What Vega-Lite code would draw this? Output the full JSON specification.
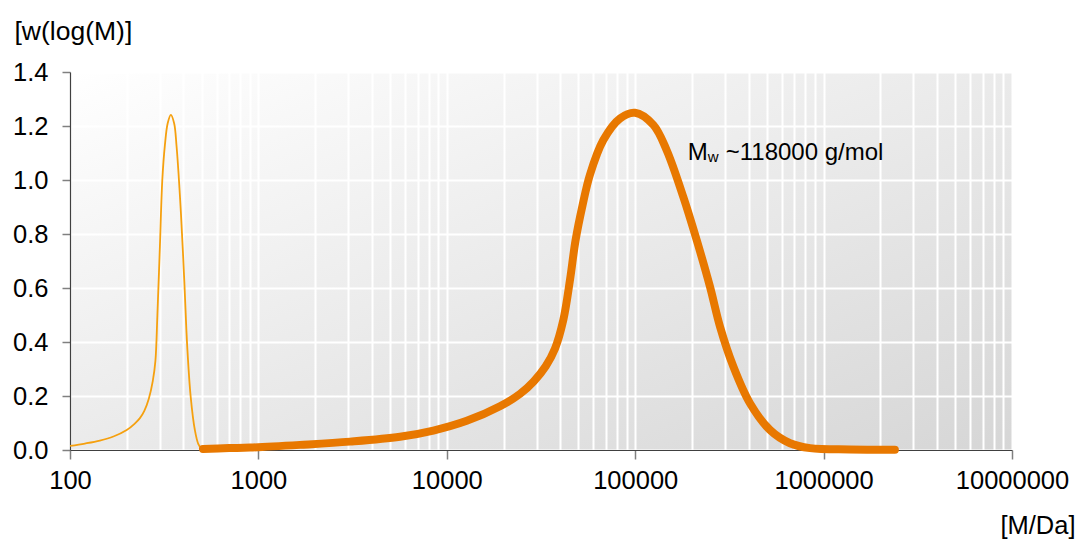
{
  "$schema": "https://vega.github.io/schema/vega-lite/v6.json",
  "width": 942,
  "height": 378,
  "autosize": "none",
  "padding": {"left": 70, "top": 72, "right": 67, "bottom": 89},
  "background": "#ffffff",
  "config": {
    "view": {
      "stroke": null,
      "fill": {"gradient": "linear", "x1": 0, "y1": 0, "x2": 1, "y2": 1,
        "stops": [{"offset": 0, "color": "#ffffff"}, {"offset": 1, "color": "#d6d6d6"}]}
    },
    "font": "Liberation Sans",
    "axis": {
      "labelFont": "Liberation Sans",
      "titleFont": "Liberation Sans",
      "labelFontSize": 25.5,
      "titleFontSize": 25.5,
      "labelColor": "#000000",
      "titleColor": "#000000",
      "titleFontWeight": "normal",
      "gridColor": "#ffffff",
      "gridWidth": 2,
      "gridOpacity": 1,
      "domainColor": "#404040",
      "domainWidth": 1.2,
      "tickColor": "#808080",
      "tickWidth": 1.5,
      "labelFlush": false,
      "labelOverlap": false
    }
  },
  "datasets": {
    "thin": [
      {"M": 100, "w": 0.015}, {"M": 120, "w": 0.024}, {"M": 144, "w": 0.035}, {"M": 170, "w": 0.05},
      {"M": 200, "w": 0.074}, {"M": 220, "w": 0.097}, {"M": 235, "w": 0.118}, {"M": 248, "w": 0.145},
      {"M": 262, "w": 0.19}, {"M": 275, "w": 0.255}, {"M": 284, "w": 0.33}, {"M": 291, "w": 0.5},
      {"M": 300, "w": 0.753}, {"M": 309, "w": 1.0}, {"M": 319, "w": 1.13}, {"M": 330, "w": 1.21},
      {"M": 343, "w": 1.241}, {"M": 357, "w": 1.21}, {"M": 368, "w": 1.123}, {"M": 388, "w": 0.877},
      {"M": 404, "w": 0.63}, {"M": 419, "w": 0.383}, {"M": 437, "w": 0.198}, {"M": 460, "w": 0.074},
      {"M": 480, "w": 0.022}, {"M": 500, "w": 0.004}
    ],
    "thick": [
      {"M": 508, "w": 0.004}, {"M": 700, "w": 0.007}, {"M": 902, "w": 0.009}, {"M": 1663, "w": 0.019},
      {"M": 3064, "w": 0.031}, {"M": 5646, "w": 0.049}, {"M": 8480, "w": 0.072}, {"M": 12760, "w": 0.108},
      {"M": 19150, "w": 0.162}, {"M": 24470, "w": 0.208}, {"M": 29000, "w": 0.255}, {"M": 33500, "w": 0.31},
      {"M": 37500, "w": 0.375}, {"M": 41520, "w": 0.481}, {"M": 45070, "w": 0.63}, {"M": 48200, "w": 0.775},
      {"M": 52500, "w": 0.905}, {"M": 57540, "w": 1.02}, {"M": 67740, "w": 1.148}, {"M": 83040, "w": 1.228},
      {"M": 99750, "w": 1.249}, {"M": 124800, "w": 1.204}, {"M": 146800, "w": 1.111}, {"M": 179900, "w": 0.938},
      {"M": 211900, "w": 0.778}, {"M": 249400, "w": 0.605}, {"M": 281900, "w": 0.457}, {"M": 331800, "w": 0.309},
      {"M": 406500, "w": 0.173}, {"M": 519500, "w": 0.074}, {"M": 663700, "w": 0.025}, {"M": 847400, "w": 0.007},
      {"M": 1380000, "w": 0.002}, {"M": 2390000, "w": 0.001}
    ],
    "note": [{"M": 190000, "w": 1.074}]
  },
  "layer": [
    {
      "data": {"name": "thin"},
      "mark": {"type": "line", "color": "#F5A00F", "strokeWidth": 1.8, "interpolate": "catmull-rom", "clip": true},
      "encoding": {
        "x": {
          "field": "M", "type": "quantitative",
          "scale": {"type": "log", "domain": [100, 10000000], "nice": false},
          "axis": {
            "title": "[M/Da]",
            "titleAnchor": "start", "titleAlign": "right", "titleBaseline": "alphabetic",
            "titleX": 1005, "titleY": 83,
            "values": [100,200,300,400,500,600,700,800,900,
                       1000,2000,3000,4000,5000,6000,7000,8000,9000,
                       10000,20000,30000,40000,50000,60000,70000,80000,90000,
                       100000,200000,300000,400000,500000,600000,700000,800000,900000,
                       1000000,2000000,3000000,4000000,5000000,6000000,7000000,8000000,9000000,
                       10000000],
            "labelExpr": "abs(log(datum.value)/LN10 - round(log(datum.value)/LN10)) < 0.000001 ? format(datum.value, 'd') : ''",
            "tickOpacity": {"condition": {"test": "abs(log(datum.value)/LN10 - round(log(datum.value)/LN10)) < 0.000001", "value": 1}, "value": 0},
            "tickSize": 9,
            "labelPadding": 9,
            "grid": true
          }
        },
        "y": {
          "field": "w", "type": "quantitative",
          "scale": {"domain": [0, 1.4], "nice": false},
          "axis": {
            "title": "[w(log(M)]",
            "titleAngle": 0, "titleAnchor": "start", "titleAlign": "left", "titleBaseline": "alphabetic",
            "titleFontSize": 26.5,
            "titleX": -56, "titleY": -33,
            "values": [0, 0.2, 0.4, 0.6, 0.8, 1.0, 1.2, 1.4],
            "format": ".1f",
            "tickSize": 8,
            "labelPadding": 14,
            "grid": true
          }
        }
      }
    },
    {
      "data": {"name": "thick"},
      "mark": {"type": "line", "color": "#E87800", "strokeWidth": 8, "strokeCap": "round", "interpolate": "catmull-rom"},
      "encoding": {
        "x": {"field": "M", "type": "quantitative"},
        "y": {"field": "w", "type": "quantitative"}
      }
    },
    {
      "data": {"name": "note"},
      "mark": {"type": "text", "text": "M", "align": "left", "baseline": "alphabetic", "fontSize": 24, "font": "Liberation Sans", "color": "#000000"},
      "encoding": {
        "x": {"field": "M", "type": "quantitative"},
        "y": {"field": "w", "type": "quantitative"}
      }
    },
    {
      "data": {"name": "note"},
      "mark": {"type": "text", "text": "w", "align": "left", "baseline": "alphabetic", "fontSize": 15, "dx": 20, "dy": 2, "font": "Liberation Sans", "color": "#000000"},
      "encoding": {
        "x": {"field": "M", "type": "quantitative"},
        "y": {"field": "w", "type": "quantitative"}
      }
    },
    {
      "data": {"name": "note"},
      "mark": {"type": "text", "text": "~118000 g/mol", "align": "left", "baseline": "alphabetic", "fontSize": 24, "dx": 38, "font": "Liberation Sans", "color": "#000000"},
      "encoding": {
        "x": {"field": "M", "type": "quantitative"},
        "y": {"field": "w", "type": "quantitative"}
      }
    }
  ]
}
